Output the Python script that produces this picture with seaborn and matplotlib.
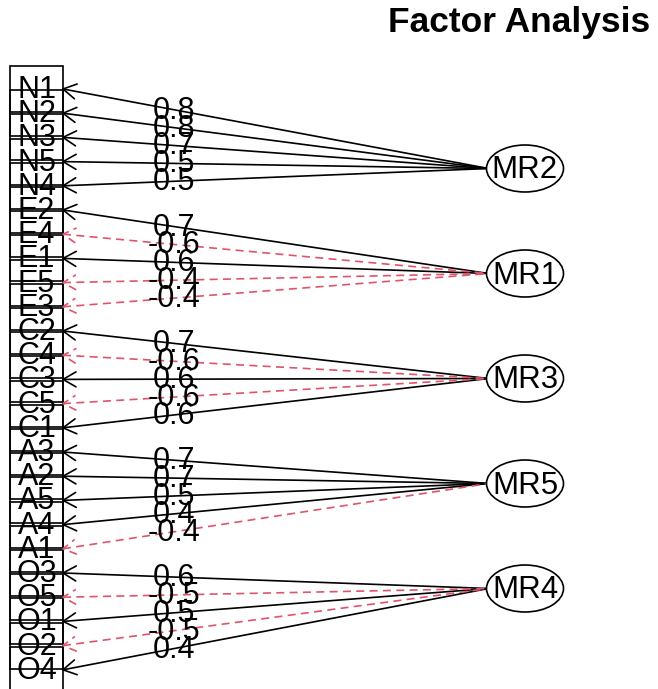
import numpy as np
import pandas as pd
import matplotlib
matplotlib.use("Agg")
import matplotlib.pyplot as plt
from matplotlib.patches import Rectangle, Ellipse
import seaborn as sns

# Factor structure: items in display order, the factor each loads on, and the loading
factors = ["MR2", "MR1", "MR3", "MR5", "MR4"]
items = ["N1", "N2", "N3", "N5", "N4",
         "E2", "E4", "E1", "E5", "E3",
         "C2", "C4", "C3", "C5", "C1",
         "A3", "A2", "A5", "A4", "A1",
         "O3", "O5", "O1", "O2", "O4"]
item_factor = ["MR2", "MR2", "MR2", "MR2", "MR2",
               "MR1", "MR1", "MR1", "MR1", "MR1",
               "MR3", "MR3", "MR3", "MR3", "MR3",
               "MR5", "MR5", "MR5", "MR5", "MR5",
               "MR4", "MR4", "MR4", "MR4", "MR4"]
loadings = [0.8, 0.8, 0.7, 0.5, 0.5,
            0.7, -0.6, 0.6, -0.4, -0.4,
            0.7, -0.6, 0.6, -0.6, 0.6,
            0.7, 0.7, 0.5, 0.4, -0.4,
            0.6, -0.5, 0.5, -0.5, 0.4]
title = "Factor Analysis"

sns.set_theme(style="white")
plt.rcParams["font.family"] = ["Liberation Sans", "DejaVu Sans"]

W, H = 658, 689
fig = plt.figure(figsize=(W / 100, H / 100), dpi=100)
ax = fig.add_axes([0, 0, 1, 1])

RED = "#DF536B"
LW = 1.2
DASH = (4.8, 3.2)

# layout of the diagram
box_l, box_r = 10, 63
var_top, var_step, var_half = 89, 24.2, 23
fac_x, fac_top, fac_step = 525, 168.5, 105
fac_w, fac_h = 77, 47
line_end_x = fac_x - fac_w / 2 + 2
label_t = 0.26

var_y = {name: var_top + i * var_step for i, name in enumerate(items)}
fac_y = {name: fac_top + k * fac_step for k, name in enumerate(factors)}

# connecting paths from each item to its factor
rows = []
for i, (name, f, v) in enumerate(zip(items, item_factor, loadings)):
    sign = "pos" if v >= 0 else "neg"
    rows.append({"x": box_r, "y": var_y[name], "seg": i, "sign": sign})
    rows.append({"x": line_end_x, "y": fac_y[f], "seg": i, "sign": sign})
df = pd.DataFrame(rows)
sns.lineplot(data=df, x="x", y="y", units="seg", estimator=None, sort=False,
             hue="sign", style="sign",
             palette={"pos": "black", "neg": RED},
             dashes={"pos": "", "neg": DASH},
             linewidth=LW, legend=False, ax=ax, zorder=3)
ax.set_xlim(0, W)
ax.set_ylim(H, 0)
ax.axis("off")

# item boxes and labels
for name, y in var_y.items():
    ax.add_patch(Rectangle((box_l, y - var_half), box_r - box_l, 2 * var_half,
                           fill=False, edgecolor="black", lw=LW, zorder=2))
    ax.text((box_l + box_r) / 2, y + 1, name, ha="center", va="center",
            fontsize=22, color="black", zorder=4)

# arrowheads at the item end and loading labels
ang = np.deg2rad(30)
head = 15
for name, f, v in zip(items, item_factor, loadings):
    x0, y0 = box_r, var_y[name]
    x1, y1 = line_end_x, fac_y[f]
    d = np.array([x1 - x0, y1 - y0], dtype=float)
    d /= np.hypot(*d)
    pts = []
    for a in (ang, -ang):
        r = np.array([[np.cos(a), -np.sin(a)], [np.sin(a), np.cos(a)]]) @ d
        pts.append((x0 + head * r[0], y0 + head * r[1]))
    col = "black" if v >= 0 else RED
    ls = "-" if v >= 0 else (0, DASH)
    ax.plot([pts[0][0], x0, pts[1][0]], [pts[0][1], y0, pts[1][1]],
            color=col, lw=LW, ls=ls, zorder=3)
    lx = x0 + label_t * (x1 - x0)
    ly = y0 + label_t * (y1 - y0)
    ax.text(lx, ly + 1, f"{v:.1f}", ha="center", va="center", fontsize=22,
            color="black", zorder=5)

# factor ellipses
for name, y in fac_y.items():
    ax.add_patch(Ellipse((fac_x, y), fac_w, fac_h, facecolor="white",
                         edgecolor="black", lw=LW, zorder=6))
    ax.text(fac_x, y + 2, name, ha="center", va="center", fontsize=22.5,
            color="black", zorder=7)

ax.text(519, 32, title, ha="center", va="baseline", fontsize=25.5,
        fontweight="bold", color="black")

fig.savefig("out.png", dpi=100)
